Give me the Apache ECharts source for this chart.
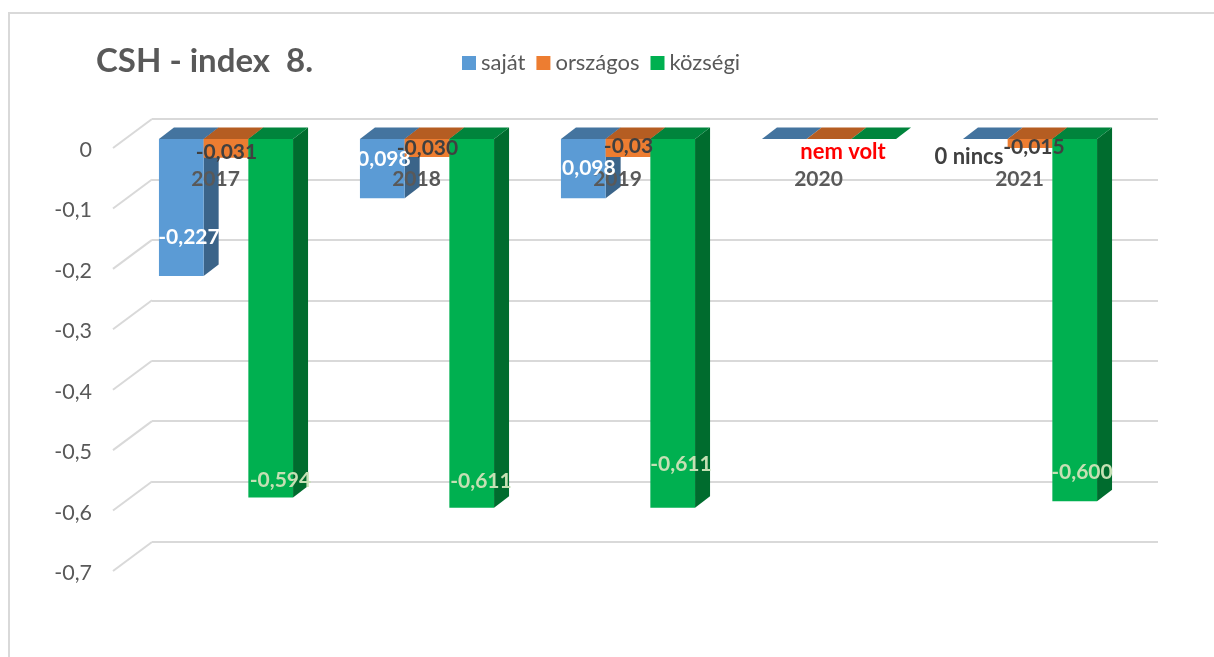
<!DOCTYPE html>
<html>
<head>
<meta charset="utf-8">
<title>CSH - index 8.</title>
<script src="https://cdn.jsdelivr.net/npm/echarts@6/dist/echarts.min.js"></script>
<style>
  html, body { margin: 0; padding: 0; background: #fff; }
  #main { width: 1214px; height: 657px; }
</style>
</head>
<body>
<div id="main"></div>
<script>
// adatok
const years = ["2017", "2018", "2019", "2020", "2021"];
const yTicks = [0, -0.1, -0.2, -0.3, -0.4, -0.5, -0.6, -0.7];
const sajat = [-0.227, -0.098, -0.098, 0, 0];
const orszagos = [-0.031, -0.03, -0.03, 0, -0.015];
const kozsegi = [-0.594, -0.611, -0.611, 0, -0.6];
const sajatLabels = ["-0,227", "-0,098", "-0,098", "", "0 nincs"];
const orszagosLabels = ["-0,031", "-0,030", "-0,03", "nem volt", "-0,015"];
const kozsegiLabels = ["-0,594", "-0,611", "-0,611", "", "-0,600"];

// a feliratok kézzel voltak elhúzva az eredetiben, ezért eltolás kell
const sajatOffsets = [[-37, 98], [-47, 20], [-43, 29], [0, 0], [-61, 18]];
const orszagosOffsets = [[0.5, 13], [0.5, 9], [0.5, 7], [14, 13], [4, 8]];
const kozsegiOffsets = [[54.5, 341], [54, 342], [53, 325], [0, 0], [52, 333]];

const FONT = "Lato, sans-serif";
const DEPTH_X = 15;
const DEPTH_Y = 11.5;
const BAR_W = 44.7;

// három lap: elöl, felül, oldalt
function bar3d(slot, front, top, side) {
  return function (params, api) {
    const i = api.value(0);
    const p0 = api.coord([i, 0]);
    const p1 = api.coord([i, api.value(1)]);
    const x = p0[0] + slot * BAR_W - BAR_W / 2;
    const y0 = p0[1];
    const y1 = p1[1];
    const children = [];
    if (y1 > y0) {
      children.push({
        type: "polygon",
        shape: { points: [[x + BAR_W, y0], [x + BAR_W + DEPTH_X, y0 - DEPTH_Y], [x + BAR_W + DEPTH_X, y1 - DEPTH_Y], [x + BAR_W, y1]] },
        style: { fill: side }
      });
      children.push({
        type: "rect",
        shape: { x: x, y: y0, width: BAR_W, height: y1 - y0 },
        style: { fill: front }
      });
    }
    children.push({
      type: "polygon",
      shape: { points: [[x, y0], [x + DEPTH_X, y0 - DEPTH_Y], [x + BAR_W + DEPTH_X, y0 - DEPTH_Y], [x + BAR_W, y0]] },
      style: { fill: top }
    });
    return { type: "group", children: children };
  };
}

function barSeries(name, values, slot, front, top, side) {
  return {
    name: name,
    type: "custom",
    xAxisIndex: 2,
    yAxisIndex: 2,
    z: 2,
    itemStyle: { color: front },
    encode: { x: 0, y: 1 },
    data: values.map((v, i) => [i, v]),
    renderItem: bar3d(slot, front, top, side)
  };
}

// felirat sorok: [év, 0, szöveg, dx, dy, szín, méret]
const labelRows = [];
function addLabels(texts, offsets, colors) {
  texts.forEach((t, i) => {
    const size = t === "nem volt" || t === "0 nincs" ? 22 : 21;
    if (t) labelRows.push([i, 0, t, offsets[i][0], offsets[i][1], colors[i], size]);
  });
}
addLabels(sajatLabels, sajatOffsets, ["#fff", "#fff", "#fff", "#fff", "#404040"]);
addLabels(orszagosLabels, orszagosOffsets, ["#404040", "#404040", "#404040", "#ff0000", "#404040"]);
addLabels(kozsegiLabels, kozsegiOffsets, ["#c5e0b4", "#c5e0b4", "#c5e0b4", "#c5e0b4", "#c5e0b4"]);

const chart = echarts.init(document.getElementById("main"));
chart.setOption({
  animation: false,
  backgroundColor: "#fff",
  title: {
    text: "CSH - index  8.",
    left: 91,
    top: 40,
    textStyle: { fontFamily: FONT, fontSize: 33, fontWeight: "bold", color: "#595959" }
  },
  legend: {
    left: 457,
    top: 47,
    itemWidth: 14,
    itemHeight: 14,
    itemGap: 11,
    data: [
      { name: "saját", icon: "rect" },
      { name: "országos", icon: "rect" },
      { name: "községi", icon: "rect" }
    ],
    textStyle: { fontFamily: FONT, fontSize: 22, color: "#595959" }
  },
  graphic: [{
    type: "polyline",
    shape: { points: [[9, 657], [9, 13], [1214, 13]] },
    style: { stroke: "#d9d9d9", lineWidth: 2, fill: null }
  }],
  grid: [
    { left: 152, top: 119, width: 1006, height: 423 }, // hátsó fal
    { left: 115, top: 150, width: 1005, height: 423 }, // feliratok síkja
    { left: 125.5, top: 139, width: 1005, height: 422.5 } // oszlopok
  ],
  xAxis: [
    { gridIndex: 0, type: "category", data: years, show: false },
    {
      gridIndex: 1,
      type: "category",
      data: years,
      position: "top",
      z: 5,
      axisLine: { show: false },
      axisTick: { show: false },
      axisLabel: {
        inside: true,
        margin: 19,
        fontFamily: FONT,
        fontSize: 21,
        fontWeight: "bold",
        color: "#595959"
      }
    },
    { gridIndex: 2, type: "category", data: years, show: false }
  ],
  yAxis: [
    {
      gridIndex: 0,
      type: "value",
      min: -0.7,
      max: 0,
      interval: 0.1,
      axisLine: { show: false },
      axisTick: { show: false },
      axisLabel: { show: false },
      splitLine: { show: true, lineStyle: { color: "#d9d9d9", width: 2 } }
    },
    {
      gridIndex: 1,
      type: "value",
      min: -0.7,
      max: 0,
      interval: 0.1,
      axisLine: { show: false },
      axisTick: { show: false },
      splitLine: { show: false },
      axisLabel: {
        margin: 23,
        fontFamily: FONT,
        fontSize: 21.5,
        color: "#595959",
        formatter: v => String(v).replace(".", ",")
      }
    },
    { gridIndex: 2, type: "value", min: -0.7, max: 0, interval: 0.1, show: false }
  ],
  series: [
    // ferde rácsvonalak a fal és a címkék között
    {
      type: "custom",
      xAxisIndex: 1,
      yAxisIndex: 1,
      z: 1,
      silent: true,
      encode: { y: 0 },
      data: yTicks.map(v => [v]),
      renderItem: function (params, api) {
        const y = api.coord([0, api.value(0)])[1] - 2;
        const x = params.coordSys.x - 2;
        return {
          type: "line",
          shape: { x1: x, y1: y, x2: x + 39, y2: y - 29 },
          style: { stroke: "#d9d9d9", lineWidth: 2 }
        };
      }
    },
    barSeries("saját", sajat, -1, "#5b9bd5", "#44749f", "#3b6489"),
    barSeries("országos", orszagos, 0, "#ed7d31", "#b55d22", "#a35420"),
    barSeries("községi", kozsegi, 1, "#00b050", "#00843c", "#006c2e"),
    // értékfeliratok mindennek a tetején
    {
      type: "custom",
      xAxisIndex: 2,
      yAxisIndex: 2,
      z: 10,
      silent: true,
      encode: { x: 0, y: 1 },
      data: labelRows,
      renderItem: function (params, api) {
        const row = labelRows[params.dataIndex];
        const p = api.coord([row[0], row[1]]);
        return {
          type: "text",
          x: p[0] + row[3],
          y: p[1] + row[4],
          style: {
            text: row[2],
            fill: row[5],
            font: "bold " + row[6] + "px " + FONT,
            align: "center",
            verticalAlign: "middle"
          }
        };
      }
    }
  ]
});
</script>
</body>
</html>
